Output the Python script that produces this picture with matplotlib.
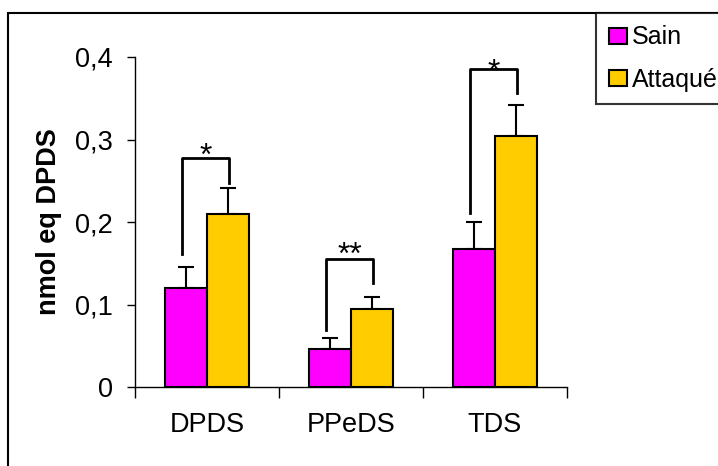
import numpy as np
import matplotlib.pyplot as plt
from matplotlib.patches import Rectangle

plt.rcParams['font.family'] = ['Liberation Sans', 'DejaVu Sans']

# data
categories = ['DPDS', 'PPeDS', 'TDS']
sain = [0.120, 0.046, 0.167]
sain_err = [0.025, 0.013, 0.033]
attaque = [0.210, 0.094, 0.304]
attaque_err = [0.031, 0.015, 0.038]
yticks = [0, 0.1, 0.2, 0.3, 0.4]
ytick_labels = ['0', '0,1', '0,2', '0,3', '0,4']

# significance brackets: (top, left leg bottom, right leg bottom, stars, star centre y)
brackets = [
    (0.278, 0.161, 0.247, '*', 0.291),
    (0.155, 0.069, 0.126, '**', 0.172),
    (0.385, 0.211, 0.356, '*', 0.393),
]

W, H = 718, 466
fig = plt.figure(figsize=(W / 100, H / 100), dpi=100)
ax = fig.add_axes([135 / W, 1 - 387 / H, (567 - 135) / W, (387 - 57) / H])

x = np.arange(len(categories))
w = 0.29
ax.bar(x - w / 2, sain, w, color='#FF00FF', edgecolor='black', linewidth=1.5, label='Sain', zorder=2)
ax.bar(x + w / 2, attaque, w, color='#FFCC00', edgecolor='black', linewidth=1.5, label='Attaqué', zorder=2)
ax.errorbar(x - w / 2, sain, yerr=[np.zeros(3), sain_err], fmt='none', ecolor='black',
            elinewidth=1.5, capsize=6, capthick=1.5, zorder=1)
ax.errorbar(x + w / 2, attaque, yerr=[np.zeros(3), attaque_err], fmt='none', ecolor='black',
            elinewidth=1.5, capsize=6, capthick=1.5, zorder=1)

star_fs = 23
# asterisk glyph sits ~0.575 em above the baseline
star_shift = 0.575 * star_fs * 100 / 72 / 825
for i, (top, lb, rb, stars, sy) in enumerate(brackets):
    xl = x[i] - w / 2 - 0.03
    xr = x[i] + w / 2 + 0.01
    ax.plot([xl, xl, xr, xr], [lb, top, top, rb], color='black', lw=2, clip_on=False)
    ax.text((xl + xr) / 2, sy - star_shift, stars, ha='center', va='baseline', fontsize=star_fs)

ax.set_xlim(-0.5, 2.5)
ax.set_ylim(0, 0.4)
ax.set_yticks(yticks)
ax.set_yticklabels(ytick_labels)
ax.set_xticks(x)
ax.set_xticklabels(categories)
ax.set_xticks([-0.5, 0.5, 1.5, 2.5], minor=True)
ax.tick_params(axis='x', which='major', length=0, pad=18, labelsize=19.5)
ax.tick_params(axis='x', which='minor', length=8, width=1, direction='out')
ax.tick_params(axis='y', length=6, width=1, pad=10, labelsize=19.5)
for s in ['top', 'right']:
    ax.spines[s].set_visible(False)
for s in ['left', 'bottom']:
    ax.spines[s].set_linewidth(1)
ax.set_ylabel('nmol eq DPDS', fontsize=19.5, fontweight='bold', labelpad=9)

# outer chart frame, running off the right and bottom edges
fig.patches.append(Rectangle((8 / W, -0.1), 1.2, 1.1 - 13 / H, transform=fig.transFigure,
                             fill=False, edgecolor='black', linewidth=1.5))

leg = fig.legend(loc='upper left', bbox_to_anchor=(596 / W, 1 - 13 / H), borderaxespad=0,
                 fontsize=18, frameon=True, fancybox=False, edgecolor='black',
                 handlelength=0.72, handleheight=0.6, handletextpad=0.2,
                 borderpad=0.5, labelspacing=0.72)
leg.get_frame().set_linewidth(1.5)

fig.savefig('out.png', dpi=100)
